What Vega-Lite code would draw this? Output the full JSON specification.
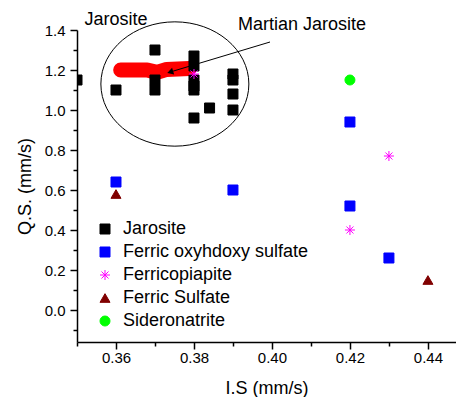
{
  "$schema": "https://vega.github.io/schema/vega-lite/v6.json",
  "width": 379,
  "height": 312,
  "autosize": {"type": "none"},
  "padding": {"left": 77, "top": 30, "right": 0, "bottom": 55},
  "background": "white",
  "config": {
    "view": {"stroke": null},
    "font": "Liberation Sans",
    "axis": {
      "grid": false,
      "domainColor": "black",
      "domainWidth": 1.5,
      "tickColor": "black",
      "tickWidth": 1.5,
      "labelColor": "black",
      "titleColor": "black",
      "labelFont": "Liberation Sans",
      "titleFont": "Liberation Sans",
      "labelFontSize": 15,
      "titleFontSize": 18,
      "titleFontWeight": "normal",
      "labelOverlap": false
    }
  },
  "resolve": {"axis": {"x": "independent", "y": "independent"}},
  "datasets": {
    "pts": [
      {"series": "Jarosite", "is": 0.35, "qs": 1.15},
      {"series": "Jarosite", "is": 0.36, "qs": 1.10},
      {"series": "Jarosite", "is": 0.37, "qs": 1.30},
      {"series": "Jarosite", "is": 0.37, "qs": 1.15},
      {"series": "Jarosite", "is": 0.37, "qs": 1.10},
      {"series": "Jarosite", "is": 0.38, "qs": 1.27},
      {"series": "Jarosite", "is": 0.38, "qs": 1.22},
      {"series": "Jarosite", "is": 0.38, "qs": 1.15},
      {"series": "Jarosite", "is": 0.38, "qs": 1.12},
      {"series": "Jarosite", "is": 0.38, "qs": 1.10},
      {"series": "Jarosite", "is": 0.38, "qs": 0.96},
      {"series": "Jarosite", "is": 0.384, "qs": 1.01},
      {"series": "Jarosite", "is": 0.39, "qs": 1.18},
      {"series": "Jarosite", "is": 0.39, "qs": 1.15},
      {"series": "Jarosite", "is": 0.39, "qs": 1.08},
      {"series": "Jarosite", "is": 0.39, "qs": 1.00},
      {"series": "Ferric oxyhdoxy sulfate", "is": 0.36, "qs": 0.64},
      {"series": "Ferric oxyhdoxy sulfate", "is": 0.39, "qs": 0.60},
      {"series": "Ferric oxyhdoxy sulfate", "is": 0.42, "qs": 0.94},
      {"series": "Ferric oxyhdoxy sulfate", "is": 0.42, "qs": 0.52},
      {"series": "Ferric oxyhdoxy sulfate", "is": 0.43, "qs": 0.26},
      {"series": "Ferricopiapite", "is": 0.38, "qs": 1.18},
      {"series": "Ferricopiapite", "is": 0.43, "qs": 0.77},
      {"series": "Ferricopiapite", "is": 0.42, "qs": 0.40},
      {"series": "Ferric Sulfate", "is": 0.36, "qs": 0.58},
      {"series": "Ferric Sulfate", "is": 0.44, "qs": 0.15},
      {"series": "Sideronatrite", "is": 0.42, "qs": 1.15}
    ],
    "martian": [
      {"is": 0.3612, "qs": 1.200},
      {"is": 0.3680, "qs": 1.200},
      {"is": 0.3705, "qs": 1.188},
      {"is": 0.3730, "qs": 1.203},
      {"is": 0.3788, "qs": 1.208}
    ],
    "ellipse": [{"is": 0.3751, "qs": 1.13}],
    "arrow": [{"is": 0.3995, "qs": 1.34, "is2": 0.3739, "qs2": 1.19}],
    "labels": [
      {"is": 0.36, "qs": 1.45, "text": "Jarosite"},
      {"is": 0.4077, "qs": 1.425, "text": "Martian Jarosite"}
    ]
  },
  "layer": [
    {
      "data": {"name": "ellipse"},
      "mark": {"type": "point", "shape": "M-1,0A1,0.84,0,1,1,1,0A1,0.84,0,1,1,-1,0", "size": 21904, "filled": false, "stroke": "black", "strokeWidth": 1, "opacity": 1},
      "encoding": {
        "x": {"field": "is", "type": "quantitative", "scale": {"domain": [0.35, 0.4472], "nice": false, "zero": false},
          "title": "I.S (mm/s)",
          "axis": {
            "orient": "bottom",
            "values": [0.36, 0.38, 0.40, 0.42, 0.44],
            "format": ".2f",
            "tickSize": 7,
            "labelPadding": 1,
            "titlePadding": 14
          }},
        "y": {"field": "qs", "type": "quantitative", "scale": {"domain": [-0.16, 1.4], "nice": false, "zero": false},
          "title": "Q.S. (mm/s)",
          "axis": {
            "orient": "left",
            "values": [0.0, 0.2, 0.4, 0.6, 0.8, 1.0, 1.2, 1.4],
            "format": ".1f",
            "tickSize": 7,
            "labelPadding": 5,
            "titlePadding": 10
          }}
      }
    },
    {
      "data": {"name": "martian"},
      "mark": {"type": "line", "color": "#ff0000", "strokeWidth": 15, "strokeCap": "round", "strokeJoin": "round"},
      "encoding": {
        "x": {"field": "is", "type": "quantitative", "title": null,
          "axis": {"orient": "bottom", "values": [0.35, 0.37, 0.39, 0.41, 0.43], "labels": false, "domain": false, "tickSize": 4}},
        "y": {"field": "qs", "type": "quantitative", "title": null,
          "axis": {"orient": "left", "values": [-0.1, 0.1, 0.3, 0.5, 0.7, 0.9, 1.1, 1.3], "labels": false, "domain": false, "tickSize": 4}}
      }
    },
    {
      "data": {"name": "pts"},
      "mark": {"type": "point", "filled": true, "size": 100, "strokeWidth": 1, "opacity": 1, "clip": true},
      "encoding": {
        "x": {"field": "is", "type": "quantitative", "axis": null},
        "y": {"field": "qs", "type": "quantitative", "axis": null},
        "color": {"field": "series", "type": "nominal",
          "scale": {"domain": ["Jarosite", "Ferric oxyhdoxy sulfate", "Ferricopiapite", "Ferric Sulfate", "Sideronatrite"],
                    "range": ["#000000", "#0000ff", "#ff00ff", "#800000", "#00ff00"]},
          "legend": {"title": null, "orient": "none", "legendX": 19, "legendY": 190,
            "labelFontSize": 18, "labelFont": "Liberation Sans", "labelColor": "black", "labelLimit": 400,
            "labelExpr": "datum.label == 'Jarosite' ? datum.label : '\u00a0' + datum.label",
            "symbolSize": 100, "rowPadding": 5, "labelOffset": 9, "padding": 0, "symbolStrokeWidth": 1}},
        "stroke": {"field": "series", "type": "nominal",
          "scale": {"domain": ["Jarosite", "Ferric oxyhdoxy sulfate", "Ferricopiapite", "Ferric Sulfate", "Sideronatrite"],
                    "range": ["#000000", "#0000ff", "#ff00ff", "#800000", "#00ff00"]}},
        "shape": {"field": "series", "type": "nominal",
          "scale": {"domain": ["Jarosite", "Ferric oxyhdoxy sulfate", "Ferricopiapite", "Ferric Sulfate", "Sideronatrite"],
                    "range": ["square", "square", "M-1,0L1,0M0,-1L0,1M-0.7,-0.7L0.7,0.7M-0.7,0.7L0.7,-0.7", "triangle-up", "circle"]}}
      }
    },
    {
      "data": {"name": "arrow"},
      "mark": {"type": "rule", "color": "black", "strokeWidth": 1},
      "encoding": {
        "x": {"field": "is", "type": "quantitative", "axis": null},
        "y": {"field": "qs", "type": "quantitative", "axis": null},
        "x2": {"field": "is2"},
        "y2": {"field": "qs2"}
      }
    },
    {
      "data": {"name": "arrow"},
      "mark": {"type": "point", "shape": "triangle-left", "filled": true, "color": "black", "size": 50, "angle": 343, "opacity": 1},
      "encoding": {
        "x": {"field": "is2", "type": "quantitative", "axis": null},
        "y": {"field": "qs2", "type": "quantitative", "axis": null}
      }
    },
    {
      "data": {"name": "labels"},
      "mark": {"type": "text", "font": "Liberation Sans", "fontSize": 18, "color": "black", "baseline": "middle", "align": "center"},
      "encoding": {
        "x": {"field": "is", "type": "quantitative", "axis": null},
        "y": {"field": "qs", "type": "quantitative", "axis": null},
        "text": {"field": "text"}
      }
    }
  ]
}
